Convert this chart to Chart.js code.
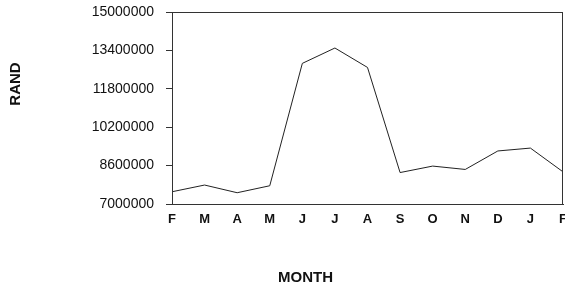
<!DOCTYPE html>
<html><head><meta charset="utf-8">
<script src="https://cdn.jsdelivr.net/npm/chart.js@4/dist/chart.umd.min.js"></script>
<style>html,body{margin:0;padding:0;background:#fff}#wrap{width:565px;height:286px}</style>
</head><body><div id="wrap"><canvas id="c"></canvas></div>
<script>
const months = ["F","M","A","M","J","J","A","S","O","N","D","J","F"];
const rand = [7510000,7790000,7470000,7760000,12860000,13500000,12690000,8310000,8580000,8440000,9210000,9330000,8340000];
const yTicks = [7000000,8600000,10200000,11800000,13400000,15000000];
const yTitle = "RAND";
const xTitle = "MONTH";

const titles = {
  id:'titles',
  afterDraw(chart){
    const {ctx, chartArea:a} = chart;
    ctx.save();
    ctx.strokeStyle = '#333'; ctx.lineWidth = 1;
    ctx.strokeRect(a.left+0.5, a.top+0.5, a.right-a.left-1, a.bottom-a.top);
    ctx.fillStyle = '#111';
    ctx.font = 'bold 15px "Liberation Sans", Arial, sans-serif';
    ctx.textAlign = 'center'; ctx.textBaseline = 'middle';
    ctx.fillText(xTitle, (a.left+a.right)/2 - 62, 278);
    ctx.translate(16, 84); ctx.rotate(-Math.PI/2);
    ctx.fillText(yTitle, 0, 0);
    ctx.restore();
  }
};

new Chart(document.getElementById('c'), {
  type:'line',
  data:{labels:months, datasets:[{data:rand, borderColor:'#222', borderWidth:1, pointRadius:0, tension:0, fill:false}]},
  options:{
    responsive:true, maintainAspectRatio:false, animation:false,
    layout:{padding:{top:12,right:2,left:0,bottom:0}},
    plugins:{legend:{display:false}, tooltip:{enabled:false}},
    scales:{
      x:{
        offset:false,
        grid:{display:false, drawTicks:false},
        border:{display:true, color:'#333'},
        ticks:{color:'#111', font:{family:'"Liberation Sans", Arial, sans-serif', size:13, weight:'bold'}, padding:8, maxRotation:0, autoSkip:false},
        afterFit(s){ s.height = 82; s.paddingLeft = 0; s.paddingRight = 0; }
      },
      y:{
        min:7000000, max:15000000,
        afterBuildTicks(s){ s.ticks = yTicks.map(v=>({value:v})); },
        grid:{drawOnChartArea:false, drawTicks:true, tickLength:6, color:'#333'},
        border:{display:true, color:'#333'},
        ticks:{color:'#111', font:{family:'"Liberation Sans", Arial, sans-serif', size:14}, padding:12, callback:v=>String(v)},
        afterFit(s){ s.width = 172; s.paddingTop = 0; s.paddingBottom = 0; }
      }
    }
  },
  plugins:[titles]
});
</script></body></html>
